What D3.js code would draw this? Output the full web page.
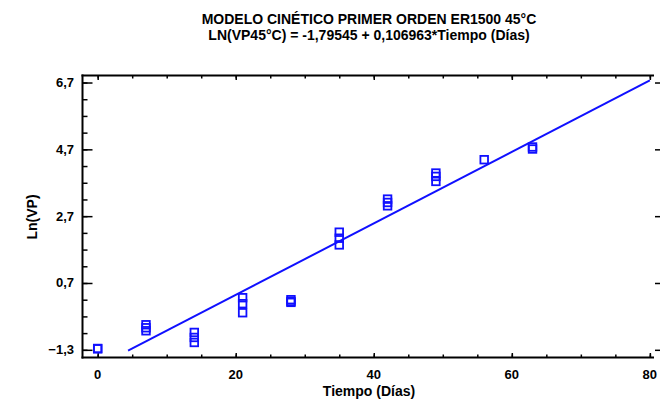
<!DOCTYPE html>
<html>
<head>
<meta charset="utf-8">
<script src="https://cdn.jsdelivr.net/npm/d3@7"></script>
<style>
  body { margin: 0; background: #fff; }
  text { font-family: "Liberation Sans", Arial, sans-serif; font-weight: bold; fill: #000; }
</style>
</head>
<body>
<div id="chart"></div>
<script>
// datos
var tiempo = [0, 0, 7, 7, 7, 14, 14, 14, 21, 21, 21, 28, 28, 28, 35, 35, 35, 42, 42, 42, 49, 49, 49, 56, 63, 63];
var lnVP   = [-1.27, -1.26, -0.55, -0.64, -0.73, -0.78, -0.93, -1.08, 0.26, 0.08, -0.19, 0.2, 0.15, 0.12,
              2.22, 2.04, 1.84, 3.21, 3.11, 3.01, 3.99, 3.89, 3.74, 4.39, 4.77, 4.71];
var yTicks = [-1.3, 0.7, 2.7, 4.7, 6.7];
var xTicks = [0, 20, 40, 60, 80];
var intercepto = -1.79545, pendiente = 0.106963;
var lineaX = [4.4, 80];

var width = 660, height = 401;
var pLeft = 82.5, pRight = 654, pTop = 75.5, pBottom = 357.5;

var svg = d3.select("#chart").append("svg")
  .attr("width", width).attr("height", height);

var x = d3.scaleLinear().domain([-2.2, 80.6]).range([pLeft, pRight]);
var y = d3.scaleLinear().domain([-1.53, 6.91]).range([pBottom, pTop]);

var fmt = function(d) { return d3.format(".1f")(d).replace(".", ","); };

// marcas menores cada 0,5 y cada 5 dias
var yMinor = d3.range(-1.3, 6.71, 0.5);
var xMinor = d3.range(0, 81, 5);

function thin(g) { g.select(".domain").remove(); g.selectAll("line").attr("stroke-width", 1.5); }

// eje izquierdo
svg.append("g").attr("transform", "translate(" + pLeft + ",0)")
  .call(d3.axisRight(y).tickValues(yMinor).tickSize(5).tickFormat("")).call(thin);
svg.append("g").attr("transform", "translate(" + pLeft + ",0)")
  .call(d3.axisRight(y).tickValues(yTicks).tickSize(10).tickFormat("")).call(thin);
svg.append("g").selectAll("text").data(yTicks).enter().append("text")
  .attr("x", 74).attr("y", function(d) { return y(d) + 4.5; })
  .attr("text-anchor", "end").style("font-size", "13px")
  .text(fmt);

// marcas derechas
svg.append("g").attr("transform", "translate(660,0)")
  .call(d3.axisLeft(y).tickValues(yTicks).tickSize(5).tickFormat("")).call(thin);

// eje inferior
svg.append("g").attr("transform", "translate(0," + pBottom + ")")
  .call(d3.axisTop(x).tickValues(xMinor).tickSize(3).tickFormat("")).call(thin);
svg.append("g").attr("transform", "translate(0," + pBottom + ")")
  .call(d3.axisTop(x).tickValues(xTicks).tickSize(4.5).tickFormat("")).call(thin);
svg.append("g").selectAll("text").data(xTicks).enter().append("text")
  .attr("x", function(d) { return x(d); }).attr("y", 379)
  .attr("text-anchor", "middle").style("font-size", "13px")
  .text(function(d) { return d; });

// eje superior
svg.append("g").attr("transform", "translate(0," + pTop + ")")
  .call(d3.axisBottom(x).tickValues(xMinor).tickSize(3).tickFormat("")).call(thin);
svg.append("g").attr("transform", "translate(0," + pTop + ")")
  .call(d3.axisBottom(x).tickValues(xTicks).tickSize(4.5).tickFormat("")).call(thin);

// marco
svg.append("line").attr("x1", pLeft).attr("x2", pLeft).attr("y1", pTop - 1).attr("y2", pBottom + 1)
  .attr("stroke", "#000").attr("stroke-width", 2);
svg.append("line").attr("x1", pLeft - 1).attr("x2", pRight).attr("y1", pTop).attr("y2", pTop)
  .attr("stroke", "#000").attr("stroke-width", 2);
svg.append("line").attr("x1", pLeft - 1).attr("x2", pRight).attr("y1", pBottom).attr("y2", pBottom)
  .attr("stroke", "#000").attr("stroke-width", 2);

// linea del modelo
svg.append("path")
  .datum(lineaX)
  .attr("fill", "none").attr("stroke", "#1010ff").attr("stroke-width", 2)
  .attr("d", d3.line().x(function(d) { return x(d); }).y(function(d) { return y(intercepto + pendiente * d); }));

// puntos
svg.append("g").selectAll("rect").data(tiempo).enter().append("rect")
  .attr("x", function(d) { return x(d) - 3.8; })
  .attr("y", function(d, i) { return y(lnVP[i]) - 3.8; })
  .attr("width", 7.6).attr("height", 7.6)
  .attr("fill", "none").attr("stroke", "#1010ff").attr("stroke-width", 1.8);

// titulos
svg.append("text").attr("x", 369).attr("y", 24).attr("text-anchor", "middle")
  .style("font-size", "14px")
  .text("MODELO CINÉTICO PRIMER ORDEN ER1500 45°C");
svg.append("text").attr("x", 369).attr("y", 39.5).attr("text-anchor", "middle")
  .style("font-size", "14px")
  .text("LN(VP45°C) = -1,79545 + 0,106963*Tiempo (Días)");
svg.append("text").attr("x", 369).attr("y", 396).attr("text-anchor", "middle")
  .style("font-size", "14px")
  .text("Tiempo (Días)");
svg.append("text").attr("transform", "translate(37,217) rotate(-90)").attr("text-anchor", "middle")
  .style("font-size", "14px")
  .text("Ln(VP)");
</script>
</body>
</html>
